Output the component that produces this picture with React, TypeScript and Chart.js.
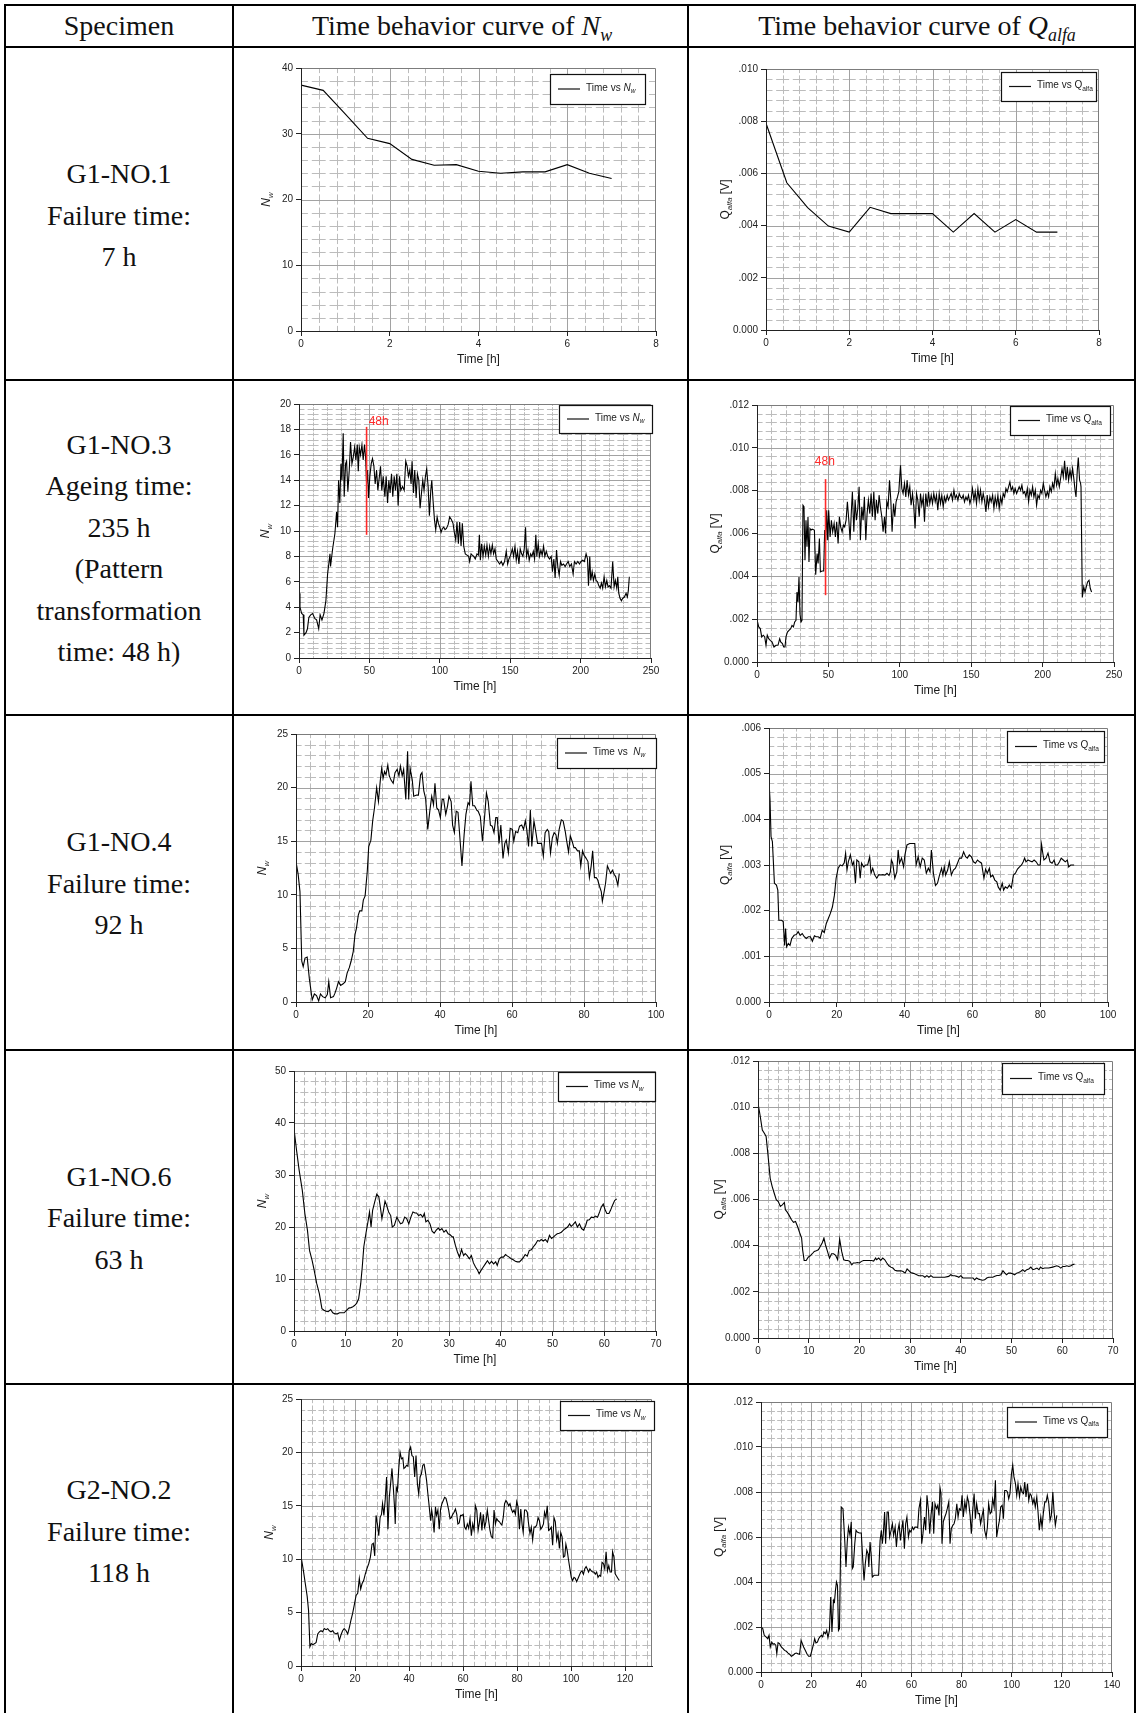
import React, { useEffect, useRef } from "react";
import { Chart, registerables } from "chart.js";
Chart.register(...registerables);

type Pt = [number, number];

// ---------------- DATA ----------------
const G1NO1_NW: Pt[] = [[0,37.4],[0.5,36.6],[1,33.0],[1.5,29.3],[2,28.5],[2.5,26.1],[3,25.2],[3.5,25.3],[4,24.3],[4.5,24.0],[5,24.2],[5.5,24.2],[6,25.3],[6.5,24.0],[7,23.2]];

const G1NO1_Q: Pt[] = [[0,0.00792],[0.5,0.00564],[1,0.00469],[1.5,0.00398],[2,0.00375],[2.5,0.0047],[3,0.00446],[3.5,0.00446],[4,0.00446],[4.5,0.00375],[5,0.00446],[5.5,0.00375],[6,0.00423],[6.5,0.00375],[7,0.00375]];

const G1NO3_NW: Pt[] = [[0,5.1],[0.7,4.0],[1.9,3.5],[3,3.4],[3.5,1.8],[5,2.0],[6,2.3],[7,3.2],[8.3,3.4],[9.7,3.5],[11.3,3.1],[12.5,3.0],[14,2.3],[15,3.4],[16.3,3.0],[17.7,3.5],[19.1,4.5],[20.3,6.6],[22,8.2],[22.4,7.2],[23.9,8.6],[25.5,9.8],[26.7,11.5],[27.4,10.3],[28.1,14.0],[29,12.2],[29.8,15.3],[30.5,14.0],[31.4,17.7],[32.1,12.7],[33.1,15.3],[33.8,15.5],[34.7,13.1],[35.7,14.8],[36.6,17.0],[37.6,15.3],[38.5,15.8],[39.5,16.6],[40.4,15.6],[41.4,16.8],[42.1,14.7],[42.8,16.6],[43.7,16.0],[44.7,16.8],[45.6,15.6],[46.5,16.8],[47.3,15.8],[48,13.7],[48.7,14.8],[49.4,12.6],[50.3,14.3],[51.3,15.3],[52.2,15.7],[53.2,15.1],[54.1,13.7],[55.1,14.8],[56,13.2],[56.9,14.1],[57.9,15.1],[58.8,13.2],[59.8,14.3],[61,12.7],[61.9,14.3],[62.9,12.2],[63.8,14.0],[64.7,13.0],[65.7,14.5],[66.6,12.7],[67.6,14.3],[68.5,13.2],[69.5,14.5],[70.4,12.0],[71.4,14.3],[72.3,13.2],[73.5,13.5],[74.7,13.2],[75.8,15.5],[76.8,15.1],[77.7,14.3],[78.7,14.8],[79.6,13.7],[80.3,15.5],[81.3,13.0],[82.2,14.8],[83.2,12.6],[84.1,14.5],[85.1,14.0],[86,11.8],[87,13.0],[87.9,14.0],[88.8,13.2],[89.8,14.3],[90.7,14.9],[91.7,13.5],[92.6,11.2],[93.6,13.2],[94.3,14.0],[95.2,12.4],[96.2,10.9],[97.1,10.1],[98.1,11.1],[99,10.6],[100,10.3],[100.9,9.9],[101.8,10.2],[102.8,10.3],[103.7,10.1],[104.7,10.2],[105.9,10.5],[107,11.1],[108.2,10.9],[109.4,10.6],[110.3,9.9],[111.3,9.3],[112.2,10.7],[113.2,9.0],[114.1,10.7],[115.1,8.8],[116,10.6],[117,8.8],[118.1,8.2],[119.3,8.1],[120.5,8.0],[121.2,7.6],[122.2,8.2],[123.1,8.1],[124.1,8.0],[125.2,7.8],[126.4,8.2],[127.4,8.1],[128.1,9.7],[128.8,7.7],[129.7,9.0],[130.7,8.0],[131.6,8.8],[132.6,8.1],[133.5,8.9],[134.5,8.0],[135.4,8.8],[136.3,8.2],[137.3,8.9],[138.2,8.2],[139.2,8.6],[140.1,7.8],[141.3,7.6],[142.5,7.4],[143.7,7.6],[144.8,7.3],[146,7.6],[147.2,8.4],[148.2,7.4],[149.1,7.8],[150.3,8.1],[151.5,8.6],[152.4,8.0],[153.4,8.8],[154.3,7.7],[155.2,8.4],[156.2,7.4],[157.1,8.6],[158.1,8.2],[159,8.0],[160,8.6],[160.9,10.3],[161.6,8.0],[162.6,8.5],[163.5,7.7],[164.5,8.2],[165.4,8.0],[166.4,8.4],[167.3,7.8],[168.2,9.7],[168.9,8.0],[169.9,9.0],[170.8,8.0],[171.8,8.5],[172.7,8.1],[173.7,8.8],[174.6,8.0],[175.6,8.4],[176.7,8.0],[177.9,7.8],[179.1,8.0],[180,6.8],[181,7.8],[181.9,6.3],[182.9,8.5],[183.8,7.2],[184.8,6.5],[185.7,7.6],[186.7,7.3],[187.9,7.4],[189,7.2],[190,7.4],[191.2,7.6],[192.3,7.2],[193.5,7.4],[194.7,6.6],[195.6,7.6],[196.8,7.4],[198,7.6],[199.2,7.4],[200.3,7.6],[201.5,7.7],[202.7,7.6],[203.9,8.2],[204.9,7.8],[205.6,5.7],[206.5,8.0],[207.2,6.1],[208.2,6.8],[209.1,6.1],[210.1,6.6],[211,6.1],[212,6.0],[212.9,5.7],[213.9,5.5],[214.8,5.9],[215.7,5.5],[216.7,6.4],[217.6,5.6],[218.6,6.1],[219.5,5.6],[220.5,5.7],[221.6,5.5],[222.8,7.6],[223.8,5.6],[224.7,6.1],[225.7,5.5],[226.4,6.4],[227.1,5.1],[228,4.7],[229,4.5],[229.9,4.7],[231.1,4.8],[232.3,5.1],[233.2,4.8],[233.9,5.3],[234.6,6.4]];

const G1NO3_Q: Pt[] = [[0,0.00198],[1.2,0.00164],[2.3,0.00156],[3.3,0.00117],[4.4,0.00125],[5.4,0.00117],[6.3,0.00078],[7.2,0.00125],[8.2,0.00109],[9.3,0.00101],[10.5,0.00094],[11.9,0.0007],[13.3,0.00078],[14.7,0.00078],[15.9,0.00109],[16.6,0.00094],[17.8,0.00086],[18.7,0.0007],[19.6,0.0007],[20.3,0.00117],[21.3,0.0014],[22.4,0.00148],[23.6,0.00156],[24.5,0.00171],[25.5,0.00164],[26.4,0.00187],[27.3,0.00195],[28,0.00327],[28.7,0.0028],[29.4,0.00397],[30.1,0.00226],[30.8,0.00187],[31.5,0.00195],[32.2,0.00732],[32.9,0.00725],[33.6,0.00475],[34.3,0.00662],[35,0.00538],[35.7,0.00678],[36.4,0.00467],[37.1,0.00623],[37.9,0.00616],[38.6,0.0062],[40.2,0.00616],[41.1,0.00408],[42.1,0.00506],[42.8,0.0046],[43.7,0.00577],[44.4,0.00421],[45.6,0.00425],[46.7,0.00425],[47.4,0.00616],[48.1,0.00569],[48.8,0.00709],[49.5,0.00569],[50.2,0.00709],[51.2,0.00584],[52.1,0.00662],[53,0.00608],[54,0.00647],[54.9,0.00584],[55.8,0.00655],[56.8,0.00553],[57.7,0.00678],[58.6,0.00631],[59.6,0.00608],[60.5,0.00639],[61.4,0.00631],[62.4,0.00662],[63.3,0.00748],[64.3,0.00662],[65.2,0.00569],[66.1,0.00709],[66.8,0.00795],[67.8,0.00608],[68.7,0.00756],[69.6,0.00662],[70.6,0.00717],[71.5,0.00818],[72.4,0.00569],[73.4,0.00725],[74.3,0.00662],[75.2,0.00771],[76.2,0.00569],[77.1,0.00693],[78,0.00756],[79,0.00693],[79.9,0.00787],[80.8,0.00678],[81.8,0.00795],[82.7,0.00662],[83.6,0.00756],[84.6,0.00693],[85.5,0.00779],[86.4,0.00725],[87.4,0.00678],[88.3,0.00608],[89.3,0.00678],[90,0.006],[90.9,0.00748],[91.8,0.00725],[92.8,0.00849],[93.7,0.00756],[94.6,0.00608],[95.6,0.0074],[96.5,0.00678],[97.4,0.00748],[98.4,0.00771],[99.3,0.00795],[100.5,0.00919],[101.4,0.0081],[102.3,0.00787],[103.3,0.00834],[104.2,0.00771],[105.1,0.00849],[106.1,0.00779],[107,0.00818],[107.9,0.00732],[108.9,0.00787],[109.8,0.00725],[110.7,0.00623],[111.7,0.00787],[112.6,0.00756],[113.6,0.00678],[114.5,0.00787],[115.4,0.00732],[116.4,0.00771],[117.3,0.00655],[118.2,0.00787],[119.2,0.00725],[120.1,0.00795],[121,0.0074],[122,0.00779],[122.9,0.0074],[123.8,0.00787],[124.8,0.00748],[125.7,0.00779],[126.6,0.00709],[127.6,0.00787],[128.5,0.0074],[129.4,0.00779],[130.4,0.00725],[131.3,0.00771],[132.2,0.00748],[133.2,0.00779],[134.1,0.00756],[135,0.00771],[136,0.00787],[136.9,0.00756],[137.9,0.00802],[138.8,0.00764],[139.7,0.00779],[140.7,0.00756],[141.6,0.00787],[142.5,0.00771],[143.5,0.00764],[144.4,0.00779],[145.3,0.00748],[146.3,0.00771],[147.2,0.00756],[148.1,0.00779],[149.1,0.0074],[150,0.00764],[150.9,0.0081],[151.9,0.00756],[152.8,0.00795],[153.7,0.0074],[154.7,0.0081],[155.6,0.00756],[156.5,0.00802],[157.5,0.00748],[158.4,0.00787],[159.3,0.00756],[160.3,0.00701],[161.2,0.00779],[162.1,0.00725],[163.1,0.00771],[164,0.00748],[165,0.00779],[165.9,0.00717],[166.8,0.00771],[167.8,0.00732],[168.7,0.00779],[169.6,0.00717],[170.6,0.00771],[171.5,0.0074],[172.4,0.00787],[173.4,0.00771],[174.3,0.0081],[175.2,0.00795],[176.2,0.00818],[177.1,0.00841],[178,0.00802],[179,0.00818],[179.9,0.00787],[180.8,0.0081],[181.8,0.00787],[182.7,0.00802],[183.6,0.00818],[184.6,0.00802],[185.5,0.00826],[186.4,0.00787],[187.4,0.00795],[188.3,0.00771],[189.3,0.0081],[190.2,0.00748],[191.1,0.00802],[192.1,0.00779],[193,0.00818],[193.9,0.00771],[194.9,0.00802],[195.8,0.00732],[196.7,0.00779],[197.7,0.00764],[198.6,0.00802],[199.5,0.00787],[200.5,0.00834],[201.4,0.00802],[202.3,0.00771],[203.3,0.00795],[204.2,0.00771],[205.1,0.00818],[206.1,0.00795],[207,0.00834],[207.9,0.0081],[208.9,0.0088],[209.8,0.00826],[210.7,0.00857],[211.7,0.00818],[212.6,0.00857],[213.6,0.00904],[214.5,0.00865],[215.4,0.0094],[216.4,0.00849],[217.3,0.00912],[218.2,0.00849],[219.2,0.00896],[220.1,0.00857],[221,0.00904],[222,0.00849],[222.7,0.00802],[223.4,0.00771],[224.3,0.00896],[225,0.00955],[225.9,0.00849],[226.6,0.00834],[226.9,0.00818],[227.8,0.00301],[228.8,0.00351],[229.7,0.00327],[230.6,0.00351],[231.5,0.00374],[232.5,0.00382],[233.4,0.00343],[234.3,0.00327]];

const G1NO4_NW: Pt[] = [[0,13.1],[0.6,11.9],[1.1,10.3],[1.6,3.8],[2.0,3.3],[2.5,4.1],[3.1,4.2],[3.7,2.2],[4.5,0.2],[5.1,0.75],[5.7,0.6],[6.3,0.1],[6.8,0.75],[7.4,0.5],[8.1,0.4],[8.7,0.7],[9.1,1.9],[9.6,0.4],[10.4,0.5],[10.8,0.8],[11.3,1.3],[11.8,1.9],[12.4,1.55],[13.1,1.7],[13.7,1.9],[14.2,2.7],[14.8,3.2],[15.3,3.8],[15.9,4.7],[16.4,6.3],[16.8,6.9],[17.3,8.1],[17.7,8.5],[18.3,8.5],[18.7,9.5],[19.2,9.9],[19.8,12.2],[20.2,14.5],[20.8,15.1],[21.3,16.9],[21.8,18.1],[22.4,20.0],[22.9,18.7],[23.4,20.6],[23.8,21.8],[24.2,20.9],[24.6,21.5],[25.0,21.2],[25.5,22.1],[25.9,21.1],[26.4,20.7],[27.0,20.4],[27.5,21.4],[28.1,21.7],[28.6,21.1],[29.0,22.0],[29.5,21.1],[29.9,21.7],[30.5,18.9],[31.0,23.4],[31.3,18.9],[31.7,21.8],[32.3,20.7],[32.7,19.2],[33.5,19.3],[34.0,19.3],[34.6,21.2],[35.0,21.4],[35.5,19.7],[36.0,19.0],[36.6,16.1],[37.2,17.9],[37.7,19.2],[38.2,18.4],[38.6,20.4],[39.1,18.1],[39.6,17.9],[40.1,17.2],[40.6,18.9],[41.0,18.9],[41.6,17.5],[42.1,18.3],[42.5,19.2],[43.1,18.7],[43.5,16.5],[44.0,15.8],[44.5,17.8],[45.0,17.7],[45.6,15.0],[46.1,12.7],[46.7,15.6],[47.2,17.5],[47.8,18.6],[48.2,18.4],[48.6,20.6],[49.1,18.3],[49.6,18.3],[50.2,17.9],[50.6,17.8],[51.2,17.3],[51.8,15.0],[52.3,16.9],[52.9,19.5],[53.4,18.7],[54.0,16.5],[54.5,16.4],[55.0,15.8],[55.5,17.2],[55.9,17.2],[56.4,14.8],[56.9,16.5],[57.5,13.4],[58.0,14.8],[58.4,15.1],[59.0,13.9],[59.5,16.2],[60.1,16.1],[60.5,15.0],[61.0,15.9],[61.6,15.8],[62.1,16.4],[62.7,16.5],[63.2,16.1],[63.7,16.9],[64.1,16.1],[64.6,14.5],[65.1,17.9],[65.5,14.5],[66.1,16.9],[66.6,15.9],[67.1,14.8],[67.7,14.8],[68.2,14.8],[68.7,13.6],[69.2,15.8],[69.8,16.1],[70.2,15.9],[70.7,13.9],[71.2,15.3],[71.7,15.8],[72.2,15.6],[72.6,14.8],[73.1,16.1],[73.7,17.0],[74.2,16.9],[74.8,15.9],[75.2,15.0],[75.7,14.0],[76.2,15.5],[76.7,15.0],[77.2,14.4],[77.6,14.4],[78.2,14.1],[78.7,14.1],[79.1,12.7],[79.6,14.1],[80.0,13.7],[80.6,13.4],[81.1,13.1],[81.5,11.6],[82.0,12.7],[82.4,14.1],[82.9,11.6],[83.4,11.6],[83.8,11.4],[84.3,10.8],[84.8,10.3],[85.1,9.4],[85.6,10.3],[86.0,11.1],[86.5,12.7],[87.0,12.3],[87.4,12.0],[87.9,12.3],[88.4,11.9],[88.8,11.7],[89.4,10.9],[89.8,12.0]];

const G1NO4_Q: Pt[] = [[0,0.00483],[0.3,0.00443],[0.6,0.00362],[1.0,0.00351],[1.6,0.0026],[2.2,0.00256],[2.6,0.00245],[2.9,0.00179],[3.7,0.00179],[4.2,0.00176],[4.6,0.00124],[4.9,0.00161],[5.2,0.00121],[5.7,0.00128],[6.2,0.00124],[6.7,0.00139],[7.4,0.00146],[8.1,0.00148],[8.6,0.00154],[9.2,0.00146],[9.8,0.0015],[10.4,0.00143],[11.0,0.00139],[11.6,0.00143],[12.2,0.00143],[12.8,0.00133],[13.4,0.00145],[13.9,0.00143],[14.5,0.00143],[15.1,0.0014],[15.7,0.00157],[16.3,0.00152],[16.9,0.00172],[17.5,0.00183],[18.1,0.00194],[18.7,0.00208],[19.3,0.00234],[19.8,0.00271],[20.4,0.00293],[21.0,0.003],[21.6,0.00298],[22.2,0.00305],[22.6,0.00326],[23.0,0.00289],[23.4,0.00307],[24.0,0.00322],[24.6,0.003],[25.0,0.00307],[25.5,0.0026],[25.9,0.00311],[26.5,0.00307],[26.9,0.00271],[27.3,0.00304],[27.9,0.00296],[28.5,0.003],[29.1,0.003],[29.7,0.00318],[30.1,0.00282],[30.6,0.00293],[31.2,0.00278],[31.8,0.00271],[32.4,0.00279],[33.0,0.00278],[33.6,0.00279],[34.2,0.00278],[34.8,0.00282],[35.4,0.00277],[35.8,0.00285],[36.1,0.00311],[36.5,0.00304],[37.1,0.00271],[37.7,0.00285],[38.1,0.00333],[38.5,0.00304],[39.1,0.00315],[39.7,0.00296],[40.1,0.00322],[40.7,0.00344],[41.5,0.00347],[42.2,0.00347],[43.0,0.00347],[43.4,0.003],[44.0,0.00318],[44.6,0.00296],[45.2,0.00315],[45.8,0.00311],[46.4,0.00282],[47.0,0.00293],[47.5,0.00285],[47.9,0.00333],[48.5,0.00282],[49.1,0.00255],[49.7,0.0026],[50.3,0.00278],[50.9,0.00293],[51.3,0.00278],[51.7,0.00296],[52.1,0.00278],[52.7,0.00289],[53.2,0.00307],[53.8,0.00278],[54.4,0.00289],[55.0,0.00293],[55.6,0.00304],[56.2,0.00315],[56.8,0.00315],[57.4,0.00329],[58.0,0.00318],[58.5,0.00315],[59.1,0.00322],[59.7,0.00318],[60.3,0.00307],[60.9,0.00304],[61.5,0.00311],[62.1,0.00307],[62.7,0.00304],[63.1,0.00285],[63.4,0.00271],[63.9,0.00291],[64.4,0.00282],[65.0,0.00293],[65.4,0.00274],[66.0,0.00278],[66.6,0.00267],[67.2,0.00263],[67.6,0.00252],[68.2,0.00245],[68.8,0.0026],[69.2,0.00245],[69.7,0.00252],[70.3,0.00249],[70.9,0.00256],[71.5,0.0025],[72.1,0.00278],[72.7,0.00282],[73.3,0.00291],[73.9,0.00296],[74.5,0.003],[75.0,0.00307],[75.4,0.00315],[75.8,0.00307],[76.4,0.00311],[77.0,0.00309],[77.6,0.00307],[78.2,0.00311],[78.8,0.00307],[79.4,0.003],[80.0,0.003],[80.4,0.00345],[80.7,0.00329],[81.1,0.00311],[81.7,0.00315],[82.3,0.00326],[82.9,0.00307],[83.5,0.00304],[84.1,0.00311],[84.5,0.003],[85.1,0.003],[85.7,0.00307],[86.2,0.00315],[86.8,0.00311],[87.4,0.00307],[88.0,0.00311],[88.4,0.00296],[89.0,0.003],[90.0,0.003]];

const G1NO6_NW: Pt[] = [[0,38.9],[0.5,34.7],[1.0,30.9],[1.6,27.1],[2.1,22.6],[2.6,19.4],[3.0,15.5],[3.5,13.6],[3.9,11.7],[4.4,9.1],[4.9,7.2],[5.4,4.3],[5.8,4.0],[6.2,3.8],[6.6,3.7],[7.1,4.1],[7.5,3.5],[7.9,3.3],[8.4,3.3],[8.8,3.5],[9.2,3.5],[9.7,3.5],[10.2,4.0],[10.6,4.4],[11.0,4.5],[11.3,4.6],[11.7,4.9],[12.1,5.3],[12.5,6.2],[12.9,9.1],[13.2,12.3],[13.5,16.2],[13.9,18.7],[14.3,21.0],[14.6,22.9],[14.9,20.0],[15.2,23.2],[15.6,24.8],[16.0,26.3],[16.4,25.8],[16.7,23.8],[17.0,21.6],[17.3,23.2],[17.6,25.0],[17.9,24.2],[18.3,22.9],[18.7,22.2],[19.0,20.0],[19.4,20.3],[19.9,21.9],[20.2,21.3],[20.6,20.6],[21.0,20.8],[21.4,21.9],[21.8,21.6],[22.2,20.6],[22.6,21.9],[23.0,22.9],[23.4,22.7],[23.7,22.7],[24.1,22.2],[24.5,22.4],[24.9,21.9],[25.2,22.6],[25.5,21.0],[25.9,21.3],[26.3,20.6],[26.7,19.2],[27.1,18.8],[27.5,19.4],[27.9,19.8],[28.2,19.4],[28.6,19.7],[29.0,19.0],[29.4,19.4],[29.8,18.7],[30.2,18.5],[30.6,18.1],[30.8,18.1],[31.2,16.5],[31.6,15.2],[32.0,14.2],[32.4,15.7],[32.8,14.5],[33.1,14.9],[33.5,14.5],[33.9,13.9],[34.3,14.5],[34.7,13.1],[35.1,12.3],[35.5,11.7],[35.8,11.0],[36.2,11.7],[36.6,12.3],[37.0,12.9],[37.4,13.5],[37.8,12.9],[38.2,13.4],[38.6,12.9],[39.0,13.3],[39.3,12.6],[39.7,13.9],[40.1,14.2],[40.5,14.2],[40.9,14.7],[41.3,14.4],[41.6,14.2],[42.0,13.9],[42.4,13.7],[42.8,13.4],[43.2,13.3],[43.6,13.3],[44.0,13.7],[44.4,14.2],[44.7,14.7],[45.1,14.4],[45.5,15.5],[45.9,15.6],[46.3,16.2],[46.7,16.7],[47.1,17.4],[47.5,17.3],[47.8,17.6],[48.2,17.3],[48.6,17.6],[49.0,17.1],[49.4,18.4],[49.8,17.8],[50.2,18.1],[50.5,18.4],[50.9,18.7],[51.3,18.8],[51.7,19.0],[52.1,19.4],[52.5,19.7],[52.9,20.0],[53.3,20.6],[53.6,20.1],[54.0,20.5],[54.4,21.0],[54.8,20.0],[55.2,20.6],[55.6,19.7],[56.0,19.4],[56.4,20.3],[56.7,21.3],[57.1,21.4],[57.5,21.9],[57.9,21.8],[58.3,22.1],[58.7,21.9],[59.1,22.9],[59.4,23.8],[59.8,24.4],[60.2,23.2],[60.5,22.6],[60.9,22.6],[61.2,23.2],[61.6,24.2],[62.0,25.1],[62.4,25.4]];

const G1NO6_Q: Pt[] = [[0,0.01017],[0.4,0.00966],[0.85,0.00901],[1.25,0.00887],[1.6,0.00873],[2.0,0.00786],[2.4,0.00692],[2.8,0.00656],[3.2,0.00627],[3.6,0.00599],[4.0,0.00591],[4.4,0.0057],[4.8,0.00577],[5.2,0.00587],[5.4,0.00555],[5.8,0.00544],[6.2,0.00529],[6.6,0.00512],[7.0,0.00501],[7.4,0.00505],[7.8,0.00483],[8.2,0.00457],[8.6,0.00433],[8.8,0.00382],[9.1,0.00336],[9.5,0.00336],[9.9,0.0035],[10.3,0.00356],[10.7,0.00365],[11.1,0.00375],[11.5,0.00378],[11.9,0.00382],[12.3,0.00397],[12.7,0.00414],[13.0,0.00433],[13.3,0.00404],[13.7,0.00375],[14.1,0.00346],[14.5,0.00365],[14.9,0.00365],[15.3,0.00358],[15.7,0.00339],[16.1,0.00428],[16.5,0.00375],[16.9,0.00339],[17.3,0.00336],[17.7,0.00336],[18.1,0.00332],[18.5,0.00317],[18.8,0.00325],[19.2,0.00325],[19.6,0.00327],[20.0,0.00325],[20.4,0.00332],[20.8,0.00336],[21.2,0.00336],[21.6,0.00336],[22.0,0.00336],[22.4,0.00336],[22.8,0.00333],[23.2,0.00346],[23.4,0.00339],[23.8,0.00346],[24.2,0.00336],[24.6,0.00346],[25.0,0.00339],[25.4,0.00325],[25.8,0.00313],[26.2,0.00307],[26.6,0.00303],[27.0,0.00293],[27.4,0.00291],[27.8,0.00291],[28.2,0.00291],[28.6,0.00288],[29.0,0.00281],[29.4,0.00299],[29.7,0.00293],[30.1,0.00284],[30.5,0.00281],[30.9,0.00278],[31.3,0.00274],[31.7,0.0027],[32.1,0.0027],[32.5,0.0027],[32.9,0.00263],[33.3,0.0027],[33.7,0.00263],[34.1,0.0027],[34.5,0.00263],[35.3,0.00263],[36.0,0.00263],[36.8,0.00263],[37.6,0.00267],[38.0,0.00274],[38.4,0.0027],[38.8,0.0027],[39.2,0.00267],[39.6,0.00263],[40.0,0.0027],[40.4,0.0026],[41.2,0.0026],[42.0,0.0026],[42.4,0.0026],[42.7,0.00252],[43.1,0.0026],[43.5,0.00255],[43.9,0.00252],[44.3,0.0025],[44.7,0.00252],[45.1,0.0026],[45.5,0.00263],[46.3,0.00263],[46.7,0.00267],[47.1,0.00271],[47.5,0.00271],[47.9,0.00274],[48.3,0.00291],[48.7,0.00281],[49.0,0.00274],[49.4,0.00281],[49.8,0.00281],[50.2,0.00278],[50.6,0.00274],[51.0,0.00281],[51.4,0.00284],[51.8,0.00288],[52.2,0.00296],[52.6,0.00288],[53.0,0.00296],[53.4,0.00299],[53.8,0.00307],[54.2,0.00296],[54.6,0.00299],[55.0,0.00303],[55.4,0.00296],[55.7,0.00307],[56.1,0.003],[56.5,0.00303],[57.3,0.00303],[58.1,0.00307],[58.5,0.0031],[58.9,0.00313],[59.3,0.0031],[59.7,0.00303],[60.1,0.0031],[60.5,0.0031],[60.9,0.00313],[61.3,0.0031],[61.7,0.00313],[62.0,0.00317],[62.4,0.0032]];

const G2NO2_NW: Pt[] = [[0,10.3],[0.9,8.9],[1.6,7.7],[2.3,6.5],[2.8,5.2],[3.3,1.8],[3.8,2.1],[4.4,2.0],[5.1,2.1],[5.6,2.2],[6.2,3.0],[6.8,3.2],[7.4,3.3],[8.0,3.2],[8.6,3.5],[9.3,3.4],[9.9,3.5],[10.5,3.3],[11.1,3.2],[11.7,3.3],[12.3,3.1],[13.0,3.0],[13.6,3.1],[14.2,2.4],[14.8,2.9],[15.4,3.3],[16.0,3.5],[16.7,3.3],[17.3,3.0],[17.9,3.6],[18.5,4.3],[19.1,4.9],[19.8,5.8],[20.4,6.6],[21.0,6.8],[21.6,8.2],[22.1,7.2],[22.6,7.7],[23.2,8.0],[23.8,8.6],[24.4,9.1],[25.1,9.6],[25.7,10.2],[26.3,11.4],[26.8,11.5],[27.3,10.3],[27.8,14.1],[28.3,13.3],[28.8,12.2],[29.3,13.9],[29.8,14.2],[30.2,15.2],[30.7,14.1],[31.2,15.6],[31.7,17.7],[32.2,12.8],[32.7,15.8],[33.2,17.1],[33.7,18.5],[34.2,16.7],[34.7,14.6],[34.9,13.3],[35.3,16.7],[35.7,16.4],[36.2,18.5],[36.7,20.0],[37.2,19.4],[37.7,19.5],[38.1,18.5],[38.6,18.6],[39.1,18.8],[39.6,18.7],[40.1,20.2],[40.6,20.5],[41.1,19.7],[41.6,19.6],[42.1,17.7],[42.6,19.7],[43.1,17.1],[43.6,16.1],[44.1,17.7],[44.6,18.0],[45.1,18.8],[45.6,18.9],[46.0,18.3],[46.5,17.4],[47.0,16.1],[47.5,14.9],[48.0,13.6],[48.4,14.6],[48.8,13.9],[49.3,12.5],[49.8,14.9],[50.2,14.1],[50.7,14.6],[51.2,12.8],[51.7,14.7],[52.2,15.2],[52.7,15.5],[53.2,15.8],[53.7,15.7],[54.2,15.2],[54.7,14.6],[55.2,13.8],[55.7,13.9],[56.2,14.2],[56.7,14.4],[57.2,14.7],[57.7,14.2],[58.1,13.3],[58.6,13.4],[59.1,14.1],[59.6,14.1],[60.1,14.2],[60.6,13.0],[61.1,12.8],[61.6,13.3],[62.1,12.9],[62.6,13.8],[63.1,12.2],[63.6,13.3],[64.1,12.7],[64.6,15.0],[65.1,14.6],[65.6,12.7],[66.0,13.3],[66.5,14.4],[67.0,12.7],[67.5,14.2],[68.0,13.0],[68.5,13.5],[69.0,14.6],[69.5,13.6],[70.0,12.7],[70.5,12.1],[71.0,12.0],[71.5,14.6],[72.0,13.3],[72.5,13.8],[73.0,13.6],[73.5,13.5],[74.0,13.3],[74.4,13.2],[74.9,13.9],[75.4,15.2],[75.9,15.5],[76.4,15.3],[76.9,15.0],[77.4,15.2],[77.9,14.7],[78.4,14.4],[78.9,14.6],[79.4,14.2],[79.9,15.4],[80.4,14.9],[80.9,12.8],[81.4,14.7],[81.9,13.2],[82.3,12.5],[82.8,14.6],[83.3,14.6],[83.8,14.4],[84.3,13.3],[84.8,12.4],[85.3,13.0],[85.8,11.8],[86.3,13.0],[86.8,13.0],[87.3,13.2],[87.8,13.9],[88.3,13.6],[88.8,12.8],[89.3,13.0],[89.8,13.3],[90.2,14.4],[90.7,13.9],[91.2,15.0],[91.7,12.7],[92.2,12.8],[92.7,13.0],[93.2,11.3],[93.7,13.9],[94.2,13.5],[94.7,11.8],[95.2,12.4],[95.7,11.0],[96.2,12.5],[96.7,12.1],[97.2,10.2],[97.7,10.3],[98.1,11.4],[98.6,10.8],[99.1,9.9],[99.6,9.1],[100.1,8.3],[100.6,8.0],[101.1,8.3],[101.6,8.2],[102.1,7.9],[102.6,8.2],[103.1,8.5],[103.6,8.8],[104.1,8.9],[104.6,8.6],[105.1,9.1],[105.6,9.3],[106.0,9.1],[106.5,8.8],[107.0,9.1],[107.5,8.9],[108.0,8.8],[108.5,8.8],[109.0,8.6],[109.5,8.8],[110.0,8.3],[110.5,8.5],[111.0,8.4],[111.5,9.7],[112.0,9.6],[112.5,9.1],[113.0,10.7],[113.5,8.9],[114.0,9.4],[114.5,8.8],[115.0,8.8],[115.4,10.7],[115.9,10.2],[116.4,8.6],[116.9,8.4],[117.4,8.2],[117.9,8.0]];

const G2NO2_Q: Pt[] = [[0,0.002],[0.7,0.00193],[1.3,0.00163],[2.0,0.00156],[2.7,0.00148],[3.2,0.00163],[3.7,0.00111],[4.3,0.00133],[4.8,0.00123],[5.3,0.00126],[5.9,0.00119],[6.3,0.00081],[6.8,0.0013],[7.4,0.00126],[8.1,0.00111],[8.8,0.00104],[9.4,0.00096],[10.1,0.00092],[10.8,0.00084],[11.4,0.00079],[12.1,0.0007],[12.8,0.00074],[13.4,0.00081],[14.1,0.00084],[14.8,0.00081],[15.4,0.00079],[16.0,0.00141],[16.5,0.00126],[17.0,0.00111],[17.7,0.00096],[18.4,0.00079],[19.0,0.0007],[19.7,0.0007],[20.3,0.00096],[21.0,0.00126],[21.4,0.00148],[21.9,0.00129],[22.5,0.00133],[23.0,0.00148],[23.5,0.00156],[24.1,0.00163],[24.6,0.00156],[25.1,0.00178],[25.7,0.0017],[26.2,0.00185],[26.7,0.00153],[27.3,0.00185],[27.8,0.00333],[28.3,0.00178],[28.9,0.00319],[29.3,0.00311],[29.7,0.00363],[30.1,0.004],[30.5,0.00385],[30.9,0.00185],[31.3,0.00193],[32.0,0.00733],[32.7,0.00726],[33.4,0.00585],[33.9,0.00467],[34.4,0.00578],[34.9,0.00644],[35.5,0.00607],[36.0,0.00667],[36.4,0.00459],[36.8,0.00467],[37.4,0.0057],[37.9,0.0063],[38.4,0.00622],[39.2,0.00618],[40.0,0.00618],[40.6,0.00496],[41.1,0.00407],[41.6,0.00481],[42.2,0.00541],[42.7,0.00526],[43.0,0.00467],[43.5,0.00578],[44.0,0.00511],[44.4,0.00422],[45.1,0.0043],[45.9,0.0043],[46.9,0.0043],[47.5,0.00585],[48.0,0.0063],[48.4,0.0057],[48.8,0.00615],[49.3,0.00711],[49.7,0.0057],[50.3,0.00711],[50.8,0.00711],[51.3,0.006],[51.9,0.0063],[52.4,0.00659],[52.9,0.00607],[53.5,0.00644],[54.0,0.00556],[54.5,0.00622],[55.1,0.00659],[55.6,0.00585],[56.1,0.0063],[56.6,0.00674],[57.2,0.00548],[57.7,0.00659],[58.2,0.00689],[58.8,0.006],[59.3,0.0063],[59.8,0.00622],[60.4,0.00644],[60.9,0.00633],[61.4,0.00644],[62.0,0.00644],[62.5,0.00641],[63.0,0.00726],[63.6,0.00763],[64.1,0.0057],[64.6,0.00615],[65.2,0.00689],[65.7,0.0063],[66.2,0.00785],[66.8,0.00719],[67.3,0.00615],[67.8,0.00696],[68.4,0.00756],[68.9,0.00615],[69.4,0.00748],[70.0,0.00726],[70.5,0.00741],[71.0,0.00696],[71.4,0.00819],[71.8,0.00793],[72.2,0.0057],[72.7,0.00667],[73.3,0.00689],[73.8,0.00704],[74.3,0.00726],[74.9,0.00756],[75.4,0.0057],[75.9,0.00637],[76.5,0.00652],[77.0,0.00659],[77.5,0.00681],[78.1,0.00748],[78.6,0.00689],[79.1,0.00726],[79.7,0.00719],[80.2,0.00785],[80.7,0.00689],[81.3,0.00756],[81.8,0.00719],[82.3,0.00778],[82.8,0.00756],[83.4,0.00696],[83.9,0.00615],[84.4,0.00711],[85.0,0.00793],[85.5,0.00681],[86.0,0.00748],[86.6,0.00704],[87.1,0.00704],[87.6,0.00659],[88.2,0.00696],[88.7,0.00719],[89.2,0.0063],[89.8,0.006],[90.3,0.00644],[90.8,0.00748],[91.4,0.00704],[91.9,0.00711],[92.4,0.0077],[93.0,0.00733],[93.5,0.00852],[94.0,0.006],[94.6,0.00644],[95.1,0.00674],[95.6,0.00733],[96.2,0.00741],[96.7,0.00681],[97.2,0.00807],[97.8,0.00807],[98.3,0.008],[98.8,0.0077],[99.3,0.00793],[99.9,0.00881],[100.4,0.00919],[100.9,0.00867],[101.5,0.00837],[102.0,0.00785],[102.5,0.00837],[103.1,0.00778],[103.6,0.00822],[104.1,0.008],[104.7,0.00793],[105.2,0.00844],[105.7,0.00778],[106.3,0.00837],[106.8,0.00763],[107.3,0.00793],[107.8,0.00785],[108.4,0.00748],[108.9,0.0077],[109.4,0.00733],[110.0,0.00778],[110.5,0.00711],[111.0,0.0063],[111.6,0.00689],[112.1,0.00644],[112.6,0.00704],[113.2,0.00756],[113.7,0.00756],[114.2,0.00785],[114.8,0.00748],[115.3,0.00674],[115.8,0.00696],[116.4,0.008],[116.9,0.00711],[117.4,0.00652],[118.0,0.00696]];

// 48 h pattern transformation markers (x, y from, y to, label x, label y)
const MARK_48H_NW = { x: 48, y0: 9.7, y1: 18.2, lx: 49.5, ly: 18.6, align: "left" as const };
const MARK_48H_Q = { x: 48, y0: 0.00312, y1: 0.00854, lx: 47.5, ly: 0.00935, align: "center" as const };

const SPECIMEN_LINES: string[][] = [
  ["G1-NO.1", "Failure time:", "7 h"],
  ["G1-NO.3", "Ageing time:", "235 h", "(Pattern", "transformation", "time: 48 h)"],
  ["G1-NO.4", "Failure time:", "92 h"],
  ["G1-NO.6", "Failure time:", "63 h"],
  ["G2-NO.2", "Failure time:", "118 h"],
];

// ---------------- LAYOUT ----------------
const SANS = '"Liberation Sans", Arial, sans-serif';
const SERIF = '"Liberation Serif", "Times New Roman", serif';
const LINE_H = 41.5;
const SPEC_TOP = [174, 444.5, 842, 1176.5, 1490];
const H_RULES = [4, 46, 379, 714, 1049, 1383];
const V_RULES = [4, 232, 687, 1134];

type Part = { t: string; it?: boolean; sub?: boolean };
type Marker = { x: number; y0: number; y1: number; lx: number; ly: number; align: "left" | "center" };
interface Spec {
  data: Pt[];
  cell: [number, number, number, number];
  plot: [number, number, number, number];
  xr: [number, number, number, number];
  yr: [number, number, number, number];
  kind: "N" | "Q";
  legend: [number, number, number, number];
  wide?: boolean;
  ytDx: number;
  marker?: Marker;
}

const COL2: [number, number] = [234, 453];
const COL3: [number, number] = [689, 445];
const ROWS: [number, number][] = [[48, 331], [381, 333], [716, 333], [1051, 332], [1385, 328]];
const cellOf = (c: [number, number], r: number): [number, number, number, number] => [c[0], ROWS[r][0], c[1], ROWS[r][1]];

const SPECS: Spec[] = [
  { data: G1NO1_NW, cell: cellOf(COL2, 0), plot: [301, 68, 656, 331], xr: [0, 8, 2, 0.4], yr: [0, 40, 10, 2], kind: "N", legend: [550, 74, 95, 30], ytDx: 34 },
  { data: G1NO1_Q, cell: cellOf(COL3, 0), plot: [766, 69, 1099, 330], xr: [0, 8, 2, 0.4], yr: [0, 0.01, 0.002, 0.0004], kind: "Q", legend: [1001, 72, 95, 29], ytDx: 40 },
  { data: G1NO3_NW, cell: cellOf(COL2, 1), plot: [299, 404, 651, 658], xr: [0, 250, 50, 10], yr: [0, 20, 2, 0.4], kind: "N", legend: [559, 405, 93, 28], ytDx: 33, marker: MARK_48H_NW },
  { data: G1NO3_Q, cell: cellOf(COL3, 1), plot: [757, 405, 1114, 662], xr: [0, 250, 50, 10], yr: [0, 0.012, 0.002, 0.0004], kind: "Q", legend: [1010, 406, 100, 29], ytDx: 41, marker: MARK_48H_Q },
  { data: G1NO4_NW, cell: cellOf(COL2, 2), plot: [296, 734, 656, 1002], xr: [0, 100, 20, 4], yr: [0, 25, 5, 1], kind: "N", legend: [557, 738, 99, 30], ytDx: 33, wide: true },
  { data: G1NO4_Q, cell: cellOf(COL3, 2), plot: [769, 728, 1108, 1002], xr: [0, 100, 20, 4], yr: [0, 0.006, 0.001, 0.0002], kind: "Q", legend: [1007, 731, 97, 31], ytDx: 43 },
  { data: G1NO6_NW, cell: cellOf(COL2, 3), plot: [294, 1071, 656, 1331], xr: [0, 70, 10, 2], yr: [0, 50, 10, 2], kind: "N", legend: [558, 1072, 97, 29], ytDx: 31 },
  { data: G1NO6_Q, cell: cellOf(COL3, 3), plot: [758, 1061, 1113, 1338], xr: [0, 70, 10, 2], yr: [0, 0.012, 0.002, 0.0004], kind: "Q", legend: [1002, 1063, 102, 31], ytDx: 38 },
  { data: G2NO2_NW, cell: cellOf(COL2, 4), plot: [301, 1399, 652, 1666], xr: [0, 130, 20, 4], yr: [0, 25, 5, 1], kind: "N", legend: [560, 1401, 94, 29], ytDx: 31 },
  { data: G2NO2_Q, cell: cellOf(COL3, 4), plot: [761, 1402, 1112, 1672], xr: [0, 140, 20, 4], yr: [0, 0.012, 0.002, 0.0004], kind: "Q", legend: [1007, 1407, 100, 30], ytDx: 41 },
];

// ---------------- DRAW HELPERS ----------------
function fontOf(p: Part, size: number) {
  return `${p.it ? "italic " : ""}${p.sub ? Math.round(size * 0.66 * 10) / 10 : size}px ${SANS}`;
}
function drawRich(ctx: CanvasRenderingContext2D, parts: Part[], x: number, y: number, size: number, align: "left" | "center") {
  const ws = parts.map((p) => { ctx.font = fontOf(p, size); return ctx.measureText(p.t).width; });
  const total = ws.reduce((a, b) => a + b, 0);
  let cx = align === "center" ? x - total / 2 : x;
  ctx.textBaseline = "middle";
  ctx.textAlign = "left";
  parts.forEach((p, i) => {
    ctx.font = fontOf(p, size);
    ctx.fillText(p.t, cx, p.sub ? y + size * 0.32 : y);
    cx += ws[i];
  });
}

function makeDecor(s: Spec) {
  return {
    id: "decor",
    beforeDatasetsDraw(chart: any) {
      const { ctx, chartArea: a } = chart;
      const xs = chart.scales.x, ys = chart.scales.y;
      const [x0, x1, xStep, xMinor] = s.xr;
      const [y0, y1, yStep, yMinor] = s.yr;
      const pxX = Math.abs(xs.getPixelForValue(x0 + xMinor) - xs.getPixelForValue(x0));
      const pxY = Math.abs(ys.getPixelForValue(y0 + yMinor) - ys.getPixelForValue(y0));
      const perX = Math.round(xStep / xMinor), perY = Math.round(yStep / yMinor);
      ctx.save();
      ctx.beginPath();
      ctx.rect(a.left, a.top, a.right - a.left, a.bottom - a.top);
      ctx.clip();
      ctx.lineWidth = 1;
      // minor vertical
      ctx.strokeStyle = "#bcbcbc";
      for (let i = 1; x0 + i * xMinor < x1 - 1e-9; i++) {
        if (i % perX === 0) continue;
        const p = Math.round(xs.getPixelForValue(x0 + i * xMinor)) + 0.5;
        ctx.setLineDash([pxY * 0.78, pxY * 0.22]);
        ctx.lineDashOffset = pxY * 0.39;
        ctx.beginPath(); ctx.moveTo(p, a.bottom); ctx.lineTo(p, a.top); ctx.stroke();
      }
      // minor horizontal
      for (let i = 1; y0 + i * yMinor < y1 - 1e-12; i++) {
        if (i % perY === 0) continue;
        const p = Math.round(ys.getPixelForValue(y0 + i * yMinor)) + 0.5;
        ctx.setLineDash([pxX * 0.78, pxX * 0.22]);
        ctx.lineDashOffset = pxX * 0.39;
        ctx.beginPath(); ctx.moveTo(a.left, p); ctx.lineTo(a.right, p); ctx.stroke();
      }
      // major
      ctx.setLineDash([]);
      ctx.strokeStyle = "#a2a2a2";
      for (let v = x0 + xStep; v < x1 - 1e-9; v += xStep) {
        const p = Math.round(xs.getPixelForValue(v)) + 0.5;
        ctx.beginPath(); ctx.moveTo(p, a.bottom); ctx.lineTo(p, a.top); ctx.stroke();
      }
      for (let i = 1; y0 + i * yStep < y1 - 1e-12; i++) {
        const p = Math.round(ys.getPixelForValue(y0 + i * yStep)) + 0.5;
        ctx.beginPath(); ctx.moveTo(a.left, p); ctx.lineTo(a.right, p); ctx.stroke();
      }
      ctx.restore();
    },
    afterDatasetsDraw(chart: any) {
      const { ctx, chartArea: a } = chart;
      const xs = chart.scales.x, ys = chart.scales.y;
      const [cx, cy] = s.cell;
      ctx.save();
      // frame
      ctx.strokeStyle = "#7c7c7c";
      ctx.lineWidth = 1;
      ctx.beginPath();
      ctx.moveTo(Math.round(a.left) + 0.5, Math.round(a.top) + 0.5);
      ctx.lineTo(Math.round(a.right) - 0.5, Math.round(a.top) + 0.5);
      ctx.lineTo(Math.round(a.right) - 0.5, Math.round(a.bottom));
      ctx.stroke();
      ctx.strokeStyle = "#222";
      ctx.beginPath();
      ctx.moveTo(Math.round(a.left) + 0.5, Math.round(a.top));
      ctx.lineTo(Math.round(a.left) + 0.5, Math.round(a.bottom) + 0.5);
      ctx.lineTo(Math.round(a.right), Math.round(a.bottom) + 0.5);
      ctx.stroke();
      // legend
      const [lx, ly, lw, lh] = s.legend;
      const bx = lx - cx, by = ly - cy;
      ctx.fillStyle = "#fff";
      ctx.fillRect(bx, by, lw, lh);
      ctx.strokeStyle = "#111";
      ctx.lineWidth = 1.2;
      ctx.strokeRect(Math.round(bx) + 0.5, Math.round(by) + 0.5, lw, lh);
      ctx.lineWidth = 1.2;
      ctx.beginPath();
      ctx.moveTo(bx + 8, by + lh / 2);
      ctx.lineTo(bx + 30, by + lh / 2);
      ctx.stroke();
      ctx.fillStyle = "#1a1a1a";
      const legParts: Part[] = s.kind === "N"
        ? [{ t: s.wide ? "Time vs  " : "Time vs " }, { t: "N", it: true }, { t: "w", it: true, sub: true }]
        : [{ t: "Time vs " }, { t: "Q" }, { t: "alfa", sub: true }];
      drawRich(ctx, legParts, bx + 36, by + lh / 2 - 1, 10, "left");
      // axis titles
      const midX = (a.left + a.right) / 2;
      drawRich(ctx, [{ t: "Time [h]" }], midX, a.bottom + 29, 12, "center");
      const yParts: Part[] = s.kind === "N"
        ? [{ t: "N", it: true }, { t: "w", it: true, sub: true }]
        : [{ t: "Q" }, { t: "alfa", it: true, sub: true }, { t: " [V]" }];
      ctx.save();
      ctx.translate(a.left - s.ytDx, (a.top + a.bottom) / 2);
      ctx.rotate(-Math.PI / 2);
      drawRich(ctx, yParts, 0, 0, 12, "center");
      ctx.restore();
      // marker label
      if (s.marker) {
        ctx.fillStyle = "#ff2a2a";
        ctx.font = `12px ${SANS}`;
        ctx.textBaseline = "middle";
        ctx.textAlign = s.marker.align;
        ctx.fillText("48h", xs.getPixelForValue(s.marker.lx), ys.getPixelForValue(s.marker.ly));
      }
      ctx.restore();
    },
  };
}

const fmtQ = (v: number) => (Math.abs(v) < 1e-12 ? "0.000" : "." + v.toFixed(3).split(".")[1]);

function ChartCell({ spec }: { spec: Spec }) {
  const ref = useRef<HTMLCanvasElement>(null);
  useEffect(() => {
    const [cx, cy, cw, ch] = spec.cell;
    const [pl, pt, pr, pb] = spec.plot;
    const datasets: any[] = [];
    if (spec.marker) {
      datasets.push({
        data: [{ x: spec.marker.x, y: spec.marker.y0 }, { x: spec.marker.x, y: spec.marker.y1 }],
        borderColor: "#ff2a2a", borderWidth: 1.6, pointRadius: 0,
      });
    }
    datasets.push({
      data: spec.data.map(([x, y]) => ({ x, y })),
      borderColor: "#000", borderWidth: 1.1, pointRadius: 0, tension: 0,
    });
    const tickFont = { family: SANS, size: 10 };
    const chart = new Chart(ref.current as HTMLCanvasElement, {
      type: "line",
      data: { datasets },
      options: {
        animation: false,
        responsive: false,
        events: [],
        layout: { padding: { left: 0, top: pt - cy, right: cx + cw - pr, bottom: 0 } },
        plugins: { legend: { display: false }, tooltip: { enabled: false } },
        scales: {
          x: {
            type: "linear", min: spec.xr[0], max: spec.xr[1],
            afterFit: (sc: any) => { sc.height = cy + ch - pb; },
            ticks: { stepSize: spec.xr[2], includeBounds: false, autoSkip: false, maxRotation: 0, font: tickFont, color: "#222", padding: 2 },
            grid: { display: true, drawOnChartArea: false, drawTicks: true, tickLength: 5, tickColor: "#222" },
            border: { display: true, color: "#222" },
          },
          y: {
            type: "linear", min: spec.yr[0], max: spec.yr[1],
            afterFit: (sc: any) => { sc.width = pl - cx; },
            ticks: {
              stepSize: spec.yr[2], includeBounds: false, autoSkip: false, font: tickFont, color: "#222", padding: 3,
              callback: (v: any) => (spec.kind === "Q" ? fmtQ(Number(v)) : String(v)),
            },
            grid: { display: true, drawOnChartArea: false, drawTicks: true, tickLength: 5, tickColor: "#222" },
            border: { display: true, color: "#222" },
          },
        },
      } as any,
      plugins: [makeDecor(spec)],
    });
    return () => chart.destroy();
  }, [spec]);
  const [cx, cy, cw, ch] = spec.cell;
  return (
    <canvas ref={ref} width={cw} height={ch}
      style={{ position: "absolute", left: cx, top: cy, width: cw, height: ch }} />
  );
}

const subStyle: React.CSSProperties = { fontSize: "0.64em", fontStyle: "italic", position: "relative", top: "0.32em" };

export default function App() {
  return (
    <div style={{ position: "absolute", left: 0, top: 0, width: 1136, height: 1713, overflow: "hidden", background: "#fff", fontFamily: SERIF, color: "#111" }}>
      {SPECS.map((s, i) => <ChartCell key={i} spec={s} />)}
      {/* header */}
      <div style={{ position: "absolute", left: 0, width: 238, top: 6, height: 40, lineHeight: "40px", fontSize: 28, textAlign: "center" }}>Specimen</div>
      <div style={{ position: "absolute", left: 236, width: 452, top: 6, height: 40, lineHeight: "40px", fontSize: 28, textAlign: "center" }}>
        Time behavior curve of <i>N</i><span style={subStyle}>w</span>
      </div>
      <div style={{ position: "absolute", left: 696, width: 442, top: 6, height: 40, lineHeight: "40px", fontSize: 28, textAlign: "center" }}>
        Time behavior curve of <i>Q</i><span style={subStyle}>alfa</span>
      </div>
      {/* specimen column */}
      {SPECIMEN_LINES.map((lines, i) => (
        <div key={i} style={{ position: "absolute", left: 4, width: 230, top: SPEC_TOP[i] - LINE_H / 2, lineHeight: `${LINE_H}px`, fontSize: 28, textAlign: "center" }}>
          {lines.map((l, j) => <div key={j}>{l}</div>)}
        </div>
      ))}
      {/* rules */}
      {H_RULES.map((y, i) => (
        <div key={"h" + i} style={{ position: "absolute", left: 4, width: 1132, top: y, height: 2, background: "#000" }} />
      ))}
      {V_RULES.map((x, i) => (
        <div key={"v" + i} style={{ position: "absolute", left: x, width: 2, top: 4, height: 1709, background: "#000" }} />
      ))}
    </div>
  );
}
